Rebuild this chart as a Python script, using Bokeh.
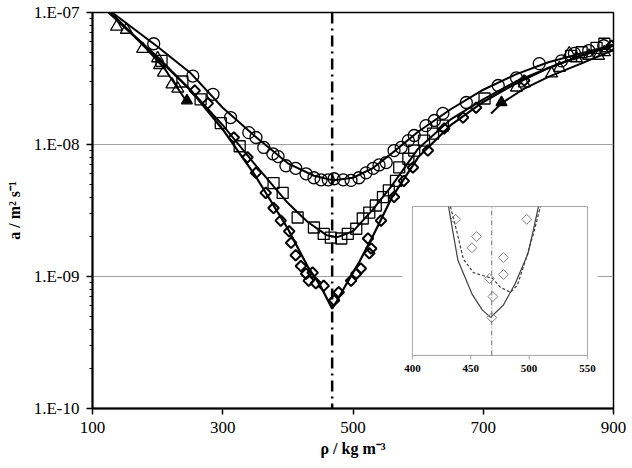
import numpy as np
from bokeh.plotting import figure
from bokeh.models import (FixedTicker, CustomJSTickFormatter, Range1d, LinearScale,
                          LogScale, Span)
from bokeh.embed import file_html
from bokeh.resources import INLINE
from bokeh.core.properties import value

# ---------------- main data ----------------
circ_x = [194, 254, 285, 312, 340, 351, 363, 377, 385, 397, 412, 428, 440, 451, 462, 471,
          485, 497, 509, 520, 531, 540, 551, 563, 574, 585, 594, 612, 625, 638, 674, 723,
          751, 786, 820, 840, 862, 885]
circ_a = [5.8e-8, 3.3e-8, 2.4e-8, 1.6e-8, 1.23e-8, 1.13e-8, 9.5e-9, 8.5e-9, 8.1e-9, 6.9e-9,
          6.6e-9, 6.0e-9, 5.6e-9, 5.4e-9, 5.4e-9, 5.5e-9, 5.4e-9, 5.35e-9, 5.6e-9, 6.1e-9,
          6.6e-9, 7.0e-9, 7.3e-9, 9.0e-9, 9.5e-9, 1.07e-8, 1.17e-8, 1.39e-8, 1.52e-8,
          1.72e-8, 2.08e-8, 2.8e-8, 3.2e-8, 4.1e-8, 4.3e-8, 4.9e-8, 5.15e-8, 5.6e-8]
circ_fit_x = [130, 200, 250, 300, 350, 400, 440, 470, 500, 530, 560, 600, 650, 700, 750,
              800, 850, 900]
circ_fit_a = [1.0e-7, 5.5e-8, 3.5e-8, 1.9e-8, 1.15e-8, 7.2e-9, 5.8e-9, 5.35e-9, 5.6e-9,
              6.6e-9, 8.6e-9, 1.25e-8, 1.85e-8, 2.6e-8, 3.4e-8, 4.2e-8, 4.9e-8, 5.7e-8]

sq_x = [206, 238, 266, 297, 326, 378, 392, 415, 440, 455, 466, 482, 492, 505, 515, 525,
        535, 546, 555, 566, 571, 585, 594, 609, 623, 638, 702, 835, 851, 874, 886]
sq_a = [4.3e-8, 3.0e-8, 2.2e-8, 1.45e-8, 9.7e-9, 5.1e-9, 4.3e-9, 2.8e-9, 2.35e-9, 2.1e-9,
        1.97e-9, 1.94e-9, 2.1e-9, 2.3e-9, 2.75e-9, 3.05e-9, 3.45e-9, 4.0e-9, 4.5e-9,
        5.3e-9, 6.7e-9, 7.8e-9, 9.0e-9, 1.07e-8, 1.21e-8, 1.39e-8, 2.23e-8, 4.7e-8,
        5.0e-8, 5.4e-8, 5.8e-8]
sq_fit_x = [125, 200, 250, 300, 350, 400, 430, 460, 475, 500, 530, 560, 600, 650, 700,
            750, 800, 850, 900]
sq_fit_a = [1.0e-7, 4.6e-8, 2.6e-8, 1.4e-8, 7.0e-9, 3.6e-9, 2.6e-9, 2.05e-9, 1.98e-9,
            2.2e-9, 3.2e-9, 4.9e-9, 9.3e-9, 1.55e-8, 2.2e-8, 3.0e-8, 3.8e-8, 4.7e-8, 5.7e-8]

dia_x = [257, 277, 317, 338, 351, 366, 378, 389, 402, 405, 412, 420, 428, 432, 438, 443,
         455, 471, 478, 497, 505, 512, 523, 525, 528, 543, 563, 578, 592, 615, 640, 669,
         689, 763, 897]
dia_a = [2.56e-8, 2.05e-8, 1.13e-8, 8.0e-9, 6.1e-9, 4.3e-9, 3.3e-9, 2.65e-9, 2.2e-9,
         1.8e-9, 1.45e-9, 1.2e-9, 1.05e-9, 9.3e-10, 1.07e-9, 8.9e-10, 8.5e-10, 6.6e-10,
         7.6e-10, 9.3e-10, 1.05e-9, 1.15e-9, 1.94e-9, 1.5e-9, 1.63e-9, 2.65e-9, 4.0e-9,
         5.3e-9, 6.7e-9, 9.0e-9, 1.32e-8, 1.6e-8, 1.9e-8, 3.05e-8, 5.6e-8]
dia_fit_x = [125, 200, 250, 300, 350, 400, 430, 450, 460, 468, 475, 490, 510, 530, 560,
             600, 650, 700, 750, 800, 850, 900]
dia_fit_a = [1.0e-7, 4.5e-8, 2.6e-8, 1.3e-8, 5.8e-9, 2.3e-9, 1.2e-9, 8.5e-10, 6.8e-10,
             5.7e-10, 6.5e-10, 8.8e-10, 1.3e-9, 2.0e-9, 4.0e-9, 8.0e-9, 1.4e-8, 2.1e-8,
             2.9e-8, 3.8e-8, 4.7e-8, 5.6e-8]

tri_left_x = [137, 152, 177, 200, 203, 209, 222, 231]
tri_left_a = [7.8e-8, 7.4e-8, 5.3e-8, 4.5e-8, 4.0e-8, 3.5e-8, 2.85e-8, 2.65e-8]
tri_right_x = [751, 763, 805, 817, 832, 843, 862, 877, 886]
tri_right_a = [2.7e-8, 2.9e-8, 3.45e-8, 3.8e-8, 4.9e-8, 4.5e-8, 4.7e-8, 4.7e-8, 5.0e-8]
tri_fill_x = [245, 728]
tri_fill_a = [2.15e-8, 2.08e-8]
tri_fit_left_x = [128, 150, 180, 210, 245]
tri_fit_left_a = [1.0e-7, 7.8e-8, 5.5e-8, 3.8e-8, 2.1e-8]
tri_fit_right_x = [712, 728, 760, 800, 850, 900]
tri_fit_right_a = [1.72e-8, 2.05e-8, 2.6e-8, 3.25e-8, 4.1e-8, 5.2e-8]

rho_c = 468  # vertical dash-dot line

x_ticks = [100, 300, 500, 700, 900]
y_ticks = [1e-10, 1e-9, 1e-8, 1e-7]

# ---------------- inset data ----------------
in_x_range = (400, 550)
in_y_range = (4e-10, 1.6e-9)
in_x_ticks = [400, 450, 500, 550]
in_solid_x = [431, 435, 439, 451, 460, 467, 478, 488, 499, 504, 508]
in_solid_a = [1.6e-9, 1.24e-9, 9.7e-10, 7.1e-10, 6.1e-10, 5.7e-10, 6.4e-10, 7.8e-10,
              1.03e-9, 1.31e-9, 1.6e-9]
in_dash_x = [432.6, 438.6, 443.7, 452.3, 460.9, 468.6, 475.4, 484, 490, 496.9, 503.7, 509.7]
in_dash_a = [1.6e-9, 1.24e-9, 9.8e-10, 8.65e-10, 8.4e-10, 8.2e-10, 7.54e-10, 7.2e-10,
             7.7e-10, 9.7e-10, 1.24e-9, 1.6e-9]
in_dia_x = [437, 455, 451, 478, 466, 478, 469, 468, 498]
in_dia_a = [1.42e-9, 1.21e-9, 1.09e-9, 9.95e-10, 8.18e-10, 8.5e-10, 6.92e-10, 5.69e-10, 1.42e-9]

# ---------------- figure ----------------
FONT = "Liberation Serif"
W, H = 626, 460
BL, BR, BT, BB = 92, 13, 12, 52
p = figure(width=W, height=H, x_range=(100, 900), y_range=(1e-10, 1e-7),
           y_axis_type="log", output_backend="svg", toolbar_location=None,
           min_border_left=BL, min_border_right=BR, min_border_top=BT, min_border_bottom=BB)
p.outline_line_color = "black"
p.outline_line_width = 1.5
p.background_fill_color = "white"
p.xgrid.visible = False
p.ygrid.grid_line_color = "#a0a0a0"
p.ygrid.grid_line_width = 1

p.xaxis.ticker = FixedTicker(ticks=x_ticks, minor_ticks=[])
minor = [k * 10.0 ** e for e in (-10, -9, -8) for k in range(2, 10)]
p.yaxis.ticker = FixedTicker(ticks=y_ticks, minor_ticks=minor)
p.yaxis.formatter = CustomJSTickFormatter(code="""
const e = Math.round(Math.log10(tick));
return '1.E' + (e < 0 ? '-' : '+') + String(Math.abs(e)).padStart(2, '0');
""")
for ax in (p.xaxis, p.yaxis):
    ax.axis_line_width = 2
    ax.axis_line_color = "black"
    ax.major_tick_in = 0
    ax.major_tick_out = 6
    ax.major_tick_line_width = 1.5
    ax.minor_tick_in = 0
    ax.minor_tick_out = 3
    ax.major_label_text_font = FONT
    ax.major_label_text_font_size = "17px"
    ax.major_label_text_color = "black"
    ax.axis_label_text_font = FONT
    ax.axis_label_text_font_size = "16px"
    ax.axis_label_text_font_style = "bold"
    ax.axis_label_text_color = "black"
p.xaxis.major_label_standoff = 7
p.yaxis.major_label_standoff = 7
p.xaxis.axis_label = "ρ / kg m⁻³"
p.yaxis.axis_label = "a / m² s⁻¹"
p.xaxis.axis_label_standoff = 4
p.yaxis.axis_label_standoff = 8

# fit lines
p.line(circ_fit_x, circ_fit_a, line_color="black", line_width=2)
p.line(sq_fit_x, sq_fit_a, line_color="black", line_width=2)
p.line(dia_fit_x, dia_fit_a, line_color="black", line_width=2.2)
p.line(tri_fit_left_x, tri_fit_left_a, line_color="black", line_width=2)
p.line(tri_fit_right_x, tri_fit_right_a, line_color="black", line_width=2)

# markers
p.scatter(circ_x, circ_a, marker="circle", size=12, fill_color=None,
          line_color="black", line_width=1.3)
p.scatter(sq_x, sq_a, marker="square", size=11, fill_color=None,
          line_color="black", line_width=1.3)
p.scatter(dia_x, dia_a, marker="square", angle=np.pi / 4, size=7.5, fill_color=None,
          line_color="black", line_width=2)
p.scatter(tri_left_x + tri_right_x, tri_left_a + tri_right_a, marker="triangle", size=12,
          fill_color=None, line_color="black", line_width=1.3)
p.scatter(tri_fill_x, tri_fill_a, marker="triangle", size=11, fill_color="black",
          line_color="black", line_width=1.3)

p.add_layout(Span(location=rho_c, dimension="height", line_color="black",
                  line_width=2.5, line_dash="11 5 2 5"))

# ---------------- inset (drawn on extra ranges) ----------------
FW, FH = W - BL - BR, H - BT - BB
fx = (0.614, 0.950)   # inset box as fraction of frame width
fy = (0.134, 0.510)   # inset box as fraction of frame height
span_x = (in_x_range[1] - in_x_range[0]) / (fx[1] - fx[0])
x0 = in_x_range[0] - fx[0] * span_x
ly0, ly1 = np.log10(in_y_range[0]), np.log10(in_y_range[1])
span_y = (ly1 - ly0) / (fy[1] - fy[0])
y0 = ly0 - fy[0] * span_y
p.extra_x_ranges = {"ix": Range1d(x0, x0 + span_x)}
p.extra_y_ranges = {"iy": Range1d(10 ** y0, 10 ** (y0 + span_y))}
p.extra_x_scales = {"ix": LinearScale()}
p.extra_y_scales = {"iy": LogScale()}
kw = dict(x_range_name="ix", y_range_name="iy")

dpx_x = span_x / FW          # inset-x units per pixel
dpx_y = span_y / FH          # decades per pixel
def ydown(pix):
    return 10 ** (ly0 - pix * dpx_y)

# white background (covers grid line)
p.quad(left=[in_x_range[0] - 10 * dpx_x], right=[in_x_range[1] + 10 * dpx_x],
       bottom=[ydown(28)], top=[in_y_range[1]], fill_color="white", line_color=None, **kw)
# inset frame
p.quad(left=[in_x_range[0]], right=[in_x_range[1]], bottom=[in_y_range[0]],
       top=[in_y_range[1]], fill_color=None, line_color="#a6a6a6", line_width=1, **kw)
# inset ticks and labels
p.segment(x0=in_x_ticks, y0=[in_y_range[0]] * 4, x1=in_x_ticks, y1=[ydown(4)] * 4,
          line_color="#a6a6a6", line_width=1, **kw)
p.text(x=in_x_ticks, y=[ydown(13)] * 4, text=[str(t) for t in in_x_ticks],
       text_font=value(FONT), text_font_size="11px", text_font_style="bold",
       text_align="center", text_baseline="middle", text_color="black", **kw)
# inset vertical line
p.segment(x0=[rho_c], y0=[in_y_range[0]], x1=[rho_c], y1=[in_y_range[1]],
          line_color="#707070", line_width=1, line_dash="5 2 1 2", **kw)
# inset curves
p.line(in_solid_x, in_solid_a, line_color="#404040", line_width=1.2, **kw)
p.line(in_dash_x, in_dash_a, line_color="#404040", line_width=1.2, line_dash="3 2", **kw)
p.scatter(in_dia_x, in_dia_a, marker="square", angle=np.pi / 4, size=7, fill_color=None,
          line_color="#808080", line_width=1, **kw)

open("out.html", "w").write(file_html(p, INLINE))
